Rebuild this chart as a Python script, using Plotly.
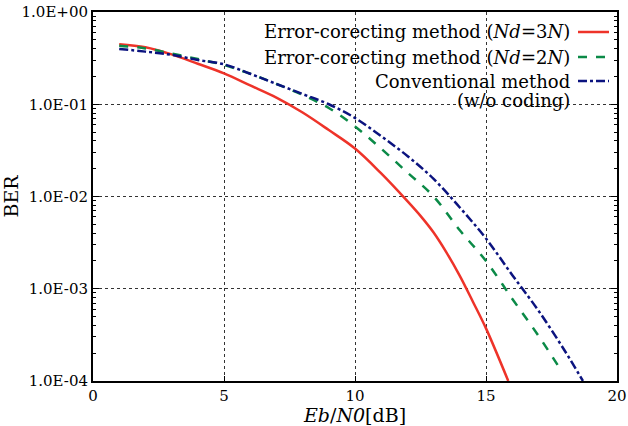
import plotly.graph_objects as go

# ---- data ----
ebn0_3n = [1, 2, 3, 4, 5, 6, 7, 8, 9, 10, 11, 12, 12.5, 13, 13.5, 14, 14.5, 15, 15.85]
ber_3n = [0.448, 0.414, 0.347, 0.275, 0.216, 0.160, 0.118, 0.0813, 0.0525,
          0.0331, 0.0178, 0.00891, 0.00617, 0.00407, 0.00245, 0.00138, 0.000724, 0.000372, 0.0001]

ebn0_2n = [1, 2, 3, 4, 5, 6, 7, 8, 9, 10, 11, 12, 13, 14, 15, 16, 17, 17.9]
ber_2n = [0.432, 0.403, 0.355, 0.309, 0.266, 0.214, 0.166, 0.126, 0.091,
          0.0575, 0.033, 0.0182, 0.0100, 0.0043, 0.0020, 0.00078, 0.00031, 0.000126]

ebn0_conv = [1, 2, 3, 4, 5, 6, 7, 8, 9, 10, 11, 12, 13, 14, 15, 16, 17, 18, 18.7]
ber_conv = [0.398, 0.372, 0.343, 0.302, 0.271, 0.214, 0.166, 0.129, 0.100,
            0.071, 0.045, 0.0275, 0.0155, 0.0076, 0.0035, 0.00141, 0.00058, 0.000214, 0.0001]

y_tickvals = [1, 0.1, 0.01, 0.001, 0.0001]
y_ticktext = ["1.0E+00", "1.0E-01", "1.0E-02", "1.0E-03", "1.0E-04"]
x_tickvals = [0, 5, 10, 15, 20]

legend_labels = [
    "Error-corecting method (<i>Nd</i>=3<i>N</i>)",
    "Error-corecting method (<i>Nd</i>=2<i>N</i>)",
    "Conventional method",
]

RED = "#ee3329"
GREEN = "#0b8a47"
BLUE = "#0b137f"
FONT = "DejaVu Serif"

fig = go.Figure()
fig.add_trace(go.Scatter(x=ebn0_3n, y=ber_3n, mode="lines", line=dict(color=RED, width=2.5, shape="spline", smoothing=1), name=legend_labels[0]))
fig.add_trace(go.Scatter(x=ebn0_2n, y=ber_2n, mode="lines", line=dict(color=GREEN, width=2.5, dash="dash", shape="spline", smoothing=1), name=legend_labels[1]))
fig.add_trace(go.Scatter(x=ebn0_conv, y=ber_conv, mode="lines", line=dict(color=BLUE, width=2.5, dash="dashdot", shape="spline", smoothing=1), name=legend_labels[2]))

minor_vals = [m * 10 ** e for e in range(-4, 0) for m in range(2, 10)]

fig.update_layout(
    width=628, height=426,
    margin=dict(l=93, r=11, t=12, b=45),
    paper_bgcolor="white", plot_bgcolor="white",
    showlegend=False,
    font=dict(family=FONT, size=15, color="black"),
)
fig.update_xaxes(
    range=[0, 20], tickvals=x_tickvals, automargin=False,
    showline=True, linecolor="black", linewidth=2, mirror=True,
    ticks="inside", ticklen=5, tickcolor="black",
    showgrid=True, gridcolor="#333333", griddash="dot", gridwidth=1,
    zeroline=False,
    tickfont=dict(family=FONT, size=15),
    title=dict(text="<i>Eb</i>/<i>N0</i>[dB]", font=dict(family=FONT, size=19), standoff=2),
)
fig.update_yaxes(
    type="log", range=[-4, 0], tickvals=y_tickvals, ticktext=y_ticktext, automargin=False,
    showline=True, linecolor="black", linewidth=2, mirror="ticks",
    ticks="inside", ticklen=6, tickcolor="black",
    showgrid=True, gridcolor="#333333", griddash="dot", gridwidth=1,
    zeroline=False,
    tickfont=dict(family=FONT, size=15),
    minor=dict(tickvals=minor_vals, ticks="inside", ticklen=3, tickcolor="black", showgrid=False),
    title=dict(text="BER", font=dict(family=FONT, size=19), standoff=2),
)

# custom legend: right-aligned text with line sample to the right
rows_y = [32, 57, 81]
colors = [RED, GREEN, BLUE]
dashes = ["solid", "dash", "dashdot"]
for lab, yy, c, d in zip(legend_labels, rows_y, colors, dashes):
    fig.add_annotation(xref="paper", yref="paper", x=(572 - 93) / 524, y=1 - (yy - 12) / 369,
                       text=lab, showarrow=False, xanchor="right", yanchor="middle",
                       font=dict(family=FONT, size=18))
    fig.add_shape(type="line", xref="paper", yref="paper",
                  x0=(578 - 93) / 524, x1=(609 - 93) / 524,
                  y0=1 - (yy - 12) / 369, y1=1 - (yy - 12) / 369,
                  line=dict(color=c, width=2.5, dash=d))
fig.add_annotation(xref="paper", yref="paper", x=(572 - 93) / 524, y=1 - (101 - 12) / 369,
                   text="(w/o coding)", showarrow=False, xanchor="right", yanchor="middle",
                   font=dict(family=FONT, size=18))

fig.write_html("out.html", config={"displayModeBar": False},
               post_script="document.body.style.margin='0';")
